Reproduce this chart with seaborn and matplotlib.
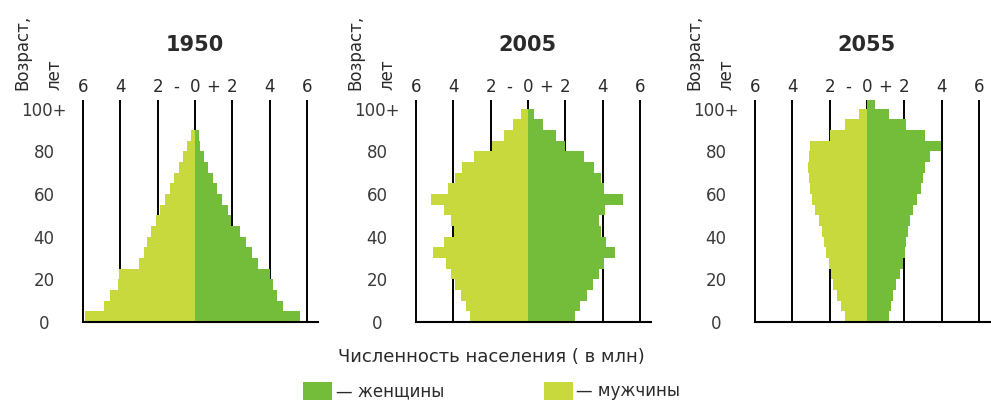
import pandas as pd
import matplotlib.pyplot as plt
import seaborn as sns
from matplotlib.patches import Patch

sns.set_style("white")
plt.rcParams['font.family'] = ['DejaVu Sans']
plt.rcParams['text.color'] = '#2a2a2a'

# --- данные: возрастные группы по 5 лет (0-4 ... 100+) ---
vozrast = [0, 5, 10, 15, 20, 25, 30, 35, 40, 45, 50, 55, 60, 65, 70, 75, 80, 85, 90, 95, 100]
gody = ['1950', '2005', '2055']

muzhchiny_1950 = [5.9, 4.9, 4.55, 4.1, 4.05, 3.0, 2.75, 2.55, 2.35, 2.1, 1.85, 1.6, 1.35, 1.1, 0.85, 0.65, 0.4, 0.2, 0, 0, 0]
zhenshchiny_1950 = [5.65, 4.75, 4.4, 4.2, 4.05, 3.4, 3.05, 2.75, 2.4, 1.95, 1.75, 1.45, 1.2, 0.95, 0.7, 0.5, 0.3, 0.2, 0, 0, 0]

muzhchiny_2005 = [3.1, 3.3, 3.6, 3.9, 4.1, 4.4, 5.1, 4.5, 3.95, 4.1, 4.5, 5.2, 4.3, 3.9, 3.55, 2.9, 1.9, 1.3, 0.8, 0.35, 0]
zhenshchiny_2005 = [2.5, 2.8, 3.15, 3.5, 3.8, 4.1, 4.65, 4.2, 3.9, 3.8, 4.15, 5.1, 4.1, 3.9, 3.55, 3.0, 2.0, 1.5, 0.8, 0.35, 0]

muzhchiny_2055 = [1.2, 1.4, 1.6, 1.8, 1.95, 2.05, 2.2, 2.3, 2.4, 2.55, 2.8, 2.95, 3.05, 3.1, 3.15, 3.1, 3.05, 2.0, 1.2, 0.4, 0]
zhenshchiny_2055 = [1.2, 1.3, 1.4, 1.55, 1.75, 1.95, 2.05, 2.1, 2.2, 2.3, 2.45, 2.7, 2.9, 3.0, 3.1, 3.4, 3.95, 3.1, 2.1, 1.2, 0.45]

muzhchiny = [muzhchiny_1950, muzhchiny_2005, muzhchiny_2055]
zhenshchiny = [zhenshchiny_1950, zhenshchiny_2005, zhenshchiny_2055]

setka_x = [-6, -4, -2, 0, 2, 4, 6]
tiki_x = [-6, -4, -2, -1, 0, 1, 2, 4, 6]
podpisi_x = ['6', '4', '2', '-', '0', '+', '2', '4', '6']
tiki_y = [0, 20, 40, 60, 80, 100]
podpisi_y = ['0', '20', '40', '60', '80', '100+']

tsvet_zh = '#74bd3a'
tsvet_m = '#c8d93e'

W, H = 991, 403
fig = plt.figure(figsize=(W / 100, H / 100), dpi=100)

levye_kraya = [83, 416, 755]  # px

for i, god in enumerate(gody):
    left = levye_kraya[i]
    ax = fig.add_axes([left / W, (H - 322) / H, 235 / W, 222 / H])

    df = pd.DataFrame({
        'vozrast': [v + 2.5 for v in vozrast] * 2,
        'chislo': [-m for m in muzhchiny[i]] + list(zhenshchiny[i]),
        'pol': ['м'] * len(vozrast) + ['ж'] * len(vozrast),
    })
    sns.barplot(data=df, x='chislo', y='vozrast', hue='pol', orient='y',
                native_scale=True, dodge=False, width=1, linewidth=0,
                saturation=1, palette={'м': tsvet_m, 'ж': tsvet_zh},
                errorbar=None, legend=False, ax=ax, zorder=2)

    ax.vlines(setka_x, 0, 104, colors='black', linewidth=1.4, zorder=1, clip_on=False)
    ax.set_xlim(-6, 6.6)
    ax.set_ylim(0, 104)

    for s in ['top', 'left', 'right']:
        ax.spines[s].set_visible(False)
    ax.spines['bottom'].set_color('black')
    ax.spines['bottom'].set_linewidth(1.5)
    ax.spines['bottom'].set_zorder(3)

    ax.xaxis.tick_top()
    ax.set_xticks(tiki_x, labels=podpisi_x)
    ax.set_yticks(tiki_y, labels=podpisi_y)
    ax.tick_params(axis='x', length=0, pad=3, labelsize=12, labelcolor='#2a2a2a')
    ax.tick_params(axis='y', length=0, pad=28, labelsize=12, labelcolor='#3a3a3a')
    plt.setp(ax.get_yticklabels(), ha='center')
    ax.set_xlabel('')
    ax.set_ylabel('')

    ax.text(0, 1 + 55 / 222, god, transform=ax.get_xaxis_transform(),
            ha='center', va='center', fontsize=15, fontweight='bold')

    fig.text((left - 61) / W, 1 - 90 / H, 'Возраст,', rotation=90,
             ha='center', va='bottom', fontsize=12)
    fig.text((left - 29) / W, 1 - 90 / H, 'лет', rotation=90,
             ha='center', va='bottom', fontsize=12)

fig.text(491 / W, 1 - 357 / H, 'Численность населения ( в млн)',
         ha='center', va='center', fontsize=13)

ruchki = [Patch(facecolor=tsvet_zh, edgecolor='none'),
          Patch(facecolor=tsvet_m, edgecolor='none')]
fig.legend(ruchki, ['— женщины', '— мужчины'], loc='center left',
           bbox_to_anchor=(303 / W, 1 - 391 / H), ncol=2, frameon=False,
           fontsize=12, handlelength=1.75, handleheight=1.3, handletextpad=0.2,
           columnspacing=6.0, borderpad=0, borderaxespad=0)

fig.savefig('out.png', dpi=100)
